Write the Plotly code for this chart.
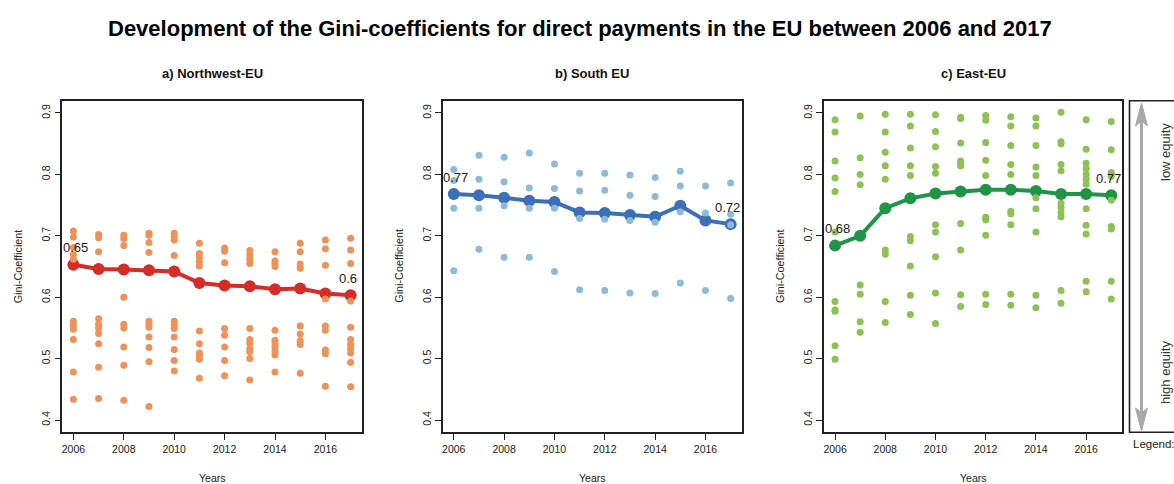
import plotly.graph_objects as go

W, H = 1174, 484

years = list(range(2006, 2018))
x_ticks = [2006, 2008, 2010, 2012, 2014, 2016]
y_ticks = [0.4, 0.5, 0.6, 0.7, 0.8, 0.9]

panel_titles = ["a) Northwest-EU", "b) South EU", "c) East-EU"]

nw_mean = [0.653, 0.646, 0.645, 0.644, 0.642, 0.623, 0.619, 0.618, 0.613, 0.614, 0.606, 0.603]
nw_points = [
    [0.708, 0.698, 0.681, 0.669, 0.662, 0.561, 0.554, 0.548, 0.531, 0.478, 0.434],
    [0.702, 0.697, 0.674, 0.565, 0.556, 0.550, 0.541, 0.524, 0.486, 0.435],
    [0.701, 0.695, 0.684, 0.600, 0.556, 0.550, 0.519, 0.489, 0.432],
    [0.704, 0.701, 0.689, 0.673, 0.561, 0.556, 0.551, 0.535, 0.518, 0.495, 0.422],
    [0.704, 0.698, 0.693, 0.668, 0.561, 0.555, 0.549, 0.535, 0.515, 0.497, 0.480],
    [0.688, 0.671, 0.665, 0.658, 0.651, 0.545, 0.524, 0.509, 0.505, 0.499, 0.468],
    [0.680, 0.675, 0.656, 0.549, 0.538, 0.519, 0.497, 0.472],
    [0.676, 0.669, 0.662, 0.655, 0.549, 0.531, 0.525, 0.516, 0.511, 0.500, 0.465],
    [0.674, 0.659, 0.655, 0.650, 0.546, 0.530, 0.524, 0.519, 0.512, 0.506, 0.478],
    [0.688, 0.674, 0.654, 0.647, 0.553, 0.540, 0.529, 0.523, 0.476],
    [0.693, 0.679, 0.652, 0.597, 0.553, 0.546, 0.514, 0.508, 0.455],
    [0.696, 0.677, 0.655, 0.594, 0.551, 0.531, 0.523, 0.516, 0.509, 0.494, 0.454],
]

s_mean = [0.768, 0.766, 0.762, 0.757, 0.755, 0.738, 0.737, 0.734, 0.731, 0.749, 0.725, 0.719]
s_points = [
    [0.808, 0.790, 0.745, 0.643],
    [0.831, 0.792, 0.745, 0.678],
    [0.828, 0.788, 0.749, 0.665],
    [0.835, 0.778, 0.745, 0.665],
    [0.817, 0.777, 0.745, 0.642],
    [0.802, 0.773, 0.728, 0.612],
    [0.802, 0.774, 0.727, 0.611],
    [0.799, 0.766, 0.725, 0.607],
    [0.795, 0.764, 0.722, 0.606],
    [0.805, 0.781, 0.739, 0.623],
    [0.781, 0.737, 0.611],
    [0.786, 0.735, 0.718, 0.598],
]

e_mean = [0.684, 0.700, 0.745, 0.761, 0.769, 0.772, 0.775, 0.775, 0.773, 0.768, 0.768, 0.766]
e_points = [
    [0.889, 0.869, 0.822, 0.794, 0.772, 0.706, 0.593, 0.579, 0.577, 0.521, 0.499],
    [0.895, 0.827, 0.800, 0.783, 0.620, 0.605, 0.560, 0.543],
    [0.898, 0.869, 0.836, 0.814, 0.792, 0.677, 0.670, 0.593, 0.559],
    [0.898, 0.879, 0.843, 0.814, 0.798, 0.699, 0.692, 0.651, 0.603, 0.572],
    [0.897, 0.870, 0.845, 0.813, 0.802, 0.718, 0.706, 0.666, 0.607, 0.557],
    [0.893, 0.891, 0.851, 0.822, 0.818, 0.814, 0.720, 0.677, 0.604, 0.585],
    [0.896, 0.888, 0.852, 0.823, 0.798, 0.730, 0.726, 0.701, 0.605, 0.588],
    [0.894, 0.879, 0.847, 0.816, 0.800, 0.740, 0.736, 0.718, 0.605, 0.587],
    [0.892, 0.879, 0.847, 0.812, 0.798, 0.762, 0.744, 0.706, 0.603, 0.583],
    [0.901, 0.853, 0.850, 0.816, 0.806, 0.753, 0.746, 0.738, 0.731, 0.611, 0.590],
    [0.889, 0.841, 0.818, 0.809, 0.800, 0.792, 0.784, 0.744, 0.717, 0.703, 0.626, 0.609],
    [0.886, 0.840, 0.803, 0.797, 0.758, 0.715, 0.711, 0.626, 0.597],
]

means = [nw_mean, s_mean, e_mean]
points = [nw_points, s_points, e_points]
dot_colors = ["#EF9158", "#8DBAD8", "#8CC153"]
line_colors = ["#D62B27", "#3B6FB6", "#1F9447"]

FONT = "Liberation Sans, Arial, Helvetica, sans-serif"
INK = "#222222"

def px(p):
    return p / W

def py(p):
    return 1 - p / H

def note(text, x, y, size, color=INK, angle=0, xanchor="center"):
    return dict(text=text, x=px(x), y=py(y), xref="paper", yref="paper",
                showarrow=False, textangle=angle, xanchor=xanchor, yanchor="middle",
                font=dict(family=FONT, size=size, color=color))

x_domains = [(62.3, 361.7), (442.7, 741.7), (824.0, 1122.3)]
y_dom = [py(432.3), py(100.7)]

fig = go.Figure()
annotations = []

for i in range(3):
    ax = "" if i == 0 else str(i + 1)
    xs, ys = [], []
    for yr, vals in zip(years, points[i]):
        for v in vals:
            xs.append(yr)
            ys.append(v)
    fig.add_trace(go.Scatter(
        x=years, y=means[i], mode="lines+markers",
        line=dict(color=line_colors[i], width=4),
        marker=dict(color=line_colors[i], size=12),
        xaxis="x" + ax, yaxis="y" + ax, showlegend=False, hoverinfo="skip"))
    fig.add_trace(go.Scatter(
        x=xs, y=ys, mode="markers",
        marker=dict(color=dot_colors[i], size=7),
        xaxis="x" + ax, yaxis="y" + ax, showlegend=False, hoverinfo="skip"))

    common = dict(showline=True, mirror=True, linecolor=INK, linewidth=1.6,
                  ticks="outside", ticklen=6, tickwidth=1.2, tickcolor=INK,
                  showgrid=False, zeroline=False,
                  tickfont=dict(family=FONT, size=10.5, color=INK))
    fig.update_layout(**{
        "xaxis" + ax: dict(domain=[px(x_domains[i][0]), px(x_domains[i][1])],
                           range=[2005.56, 2017.44], tickvals=x_ticks,
                           anchor="y" + ax, **common),
        "yaxis" + ax: dict(domain=y_dom, range=[0.38, 0.92], tickvals=y_ticks,
                           tickangle=-90, anchor="x" + ax, **common),
    })

    cx = (x_domains[i][0] + x_domains[i][1]) / 2
    annotations.append(note("<b>" + panel_titles[i] + "</b>", cx, 73, 13, "#111"))
    annotations.append(note("Years", cx, 478, 10.5))
    annotations.append(note("Gini-Coefficient", x_domains[i][0] - 44, 266, 10.8, angle=-90))
    # first and last mean value labels
    for k, xshift in ((0, 2), (len(years) - 1, -3)):
        annotations.append(dict(text=f"{round(means[i][k], 2):g}", x=years[k], y=means[i][k],
                                xref="x" + ax, yref="y" + ax, showarrow=False,
                                xanchor="center", yanchor="middle",
                                yshift=17, xshift=xshift,
                                font=dict(family=FONT, size=13, color=INK)))

annotations.append(note(
    "<b>Development of the Gini-coefficients for direct payments in the EU between 2006 and 2017</b>",
    580, 28, 22, "#000"))

# legend panel
annotations.append(note("low equity", 1165, 152, 13, "#333", angle=-90))
annotations.append(note("high equity", 1165, 373, 13, "#333", angle=-90))
annotations.append(note("Legend:", 1131, 444, 11.5, INK, xanchor="left"))

ARROW = "#A8A8A8"
ax_x = 1141.5
shapes = [
    dict(type="rect", xref="paper", yref="paper", x0=px(1129.5), x1=px(1190),
         y0=py(432.3), y1=py(100.7), line=dict(color=INK, width=1.6)),
    dict(type="line", xref="paper", yref="paper", x0=px(ax_x), x1=px(ax_x),
         y0=py(118), y1=py(418), line=dict(color=ARROW, width=3)),
    dict(type="path", xref="paper", yref="paper",
         path=f"M {px(ax_x)},{py(103)} L {px(ax_x - 6)},{py(126)} L {px(ax_x)},{py(121)} "
              f"L {px(ax_x + 6)},{py(126)} Z",
         fillcolor=ARROW, line=dict(color=ARROW, width=1)),
    dict(type="path", xref="paper", yref="paper",
         path=f"M {px(ax_x)},{py(431)} L {px(ax_x - 6)},{py(408)} L {px(ax_x)},{py(413)} "
              f"L {px(ax_x + 6)},{py(408)} Z",
         fillcolor=ARROW, line=dict(color=ARROW, width=1)),
]

fig.update_layout(width=W, height=H, autosize=False,
                  margin=dict(l=0, r=0, t=0, b=0),
                  paper_bgcolor="white", plot_bgcolor="white",
                  annotations=annotations, shapes=shapes,
                  font=dict(family=FONT, color=INK))

fig.write_html("out.html")
